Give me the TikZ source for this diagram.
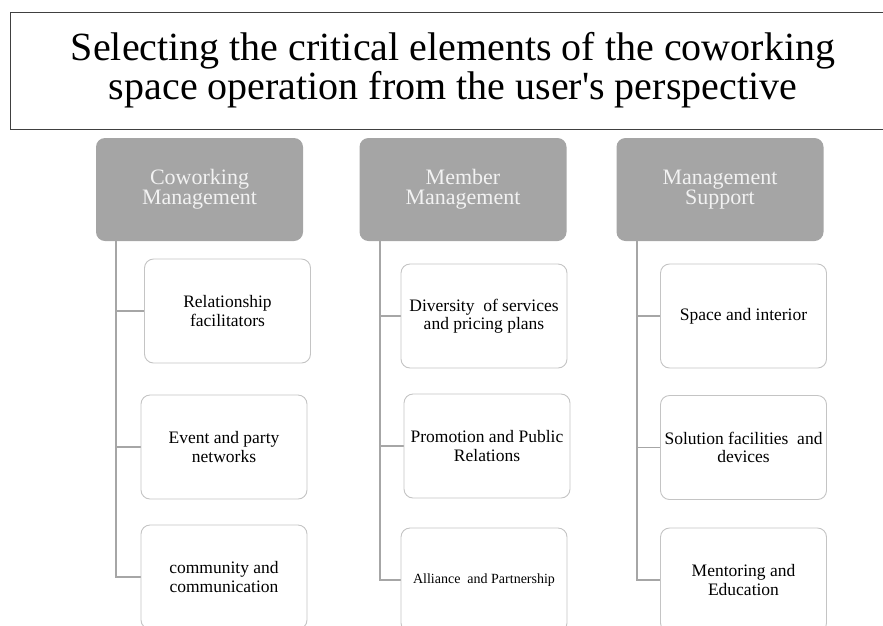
\documentclass[tikz,border=0pt]{standalone}
\usepackage{fontspec}
\setmainfont{Liberation Serif}
\usepackage{tikz}
\definecolor{headgray}{HTML}{A5A5A5}
\definecolor{linegray}{HTML}{A6A6A6}
\definecolor{boxgray}{HTML}{C4C4C4}
\tikzset{
titletext/.style={rectangle, draw=none, inner sep=0pt, align=center, font=\fontsize{40}{39}\selectfont},
frame/.style={draw=black!75, line width=1pt},
head/.style={rectangle, rounded corners=9pt, fill=headgray, draw=none, minimum width=207pt, minimum height=103pt, inner sep=0pt, align=center, text=white!95!black, font=\fontsize{22}{20}\selectfont},
item/.style={rectangle, rounded corners=9pt, draw=boxgray, line width=0.9pt, fill=white, minimum width=166pt, minimum height=104pt, inner sep=0pt, align=center, font=\fontsize{17.5}{18.5}\selectfont},
link/.style={draw=linegray, line width=1.3pt}
}

\begin{document}
\begin{tikzpicture}[x=1pt,y=-1pt]
\useasboundingbox (0,0) rectangle (883,625);
\clip (0,0) rectangle (883,625);

% title, its frame runs off the right side
\draw [frame] (10,12) rectangle (940,129);
\node [titletext] (title) at (453,70.5) {Selecting the critical elements of the coworking\\space operation from the user\textquotesingle s perspective};

\node [head] (CM) at (199.5,189.5) {Coworking\\Management};
\node [head] (MM) at (463,189.5) {Member\\Management};
\node [head] (MS) at (720,189.5) {Management\\Support};

\coordinate (CMroot) at (116,241);
\coordinate (MMroot) at (380,241);
\coordinate (MSroot) at (637,241);

% branch lines first, boxes go on top
\draw [link] (CMroot) |- (216,311);
\draw [link] (CMroot) |- (216,447);
\draw [link] (CMroot) |- (216,577);
\draw [link] (MMroot) |- (470,316);
\draw [link] (MMroot) |- (470,446);
\draw [link] (MMroot) |- (470,580);
\draw [link] (MSroot) |- (730,316);
\draw [link] (MSroot) |- (730,447.5);
\draw [link] (MSroot) |- (730,580);

\node [item] (CM1) at (227.5,311) {Relationship\\facilitators};
\node [item] (CM2) at (224,447) {Event and party\\networks};
\node [item] (CM3) at (224,577) {community and\\communication};

\node [item] (MM1) at (484,316) {Diversity\ \ of services\\and pricing plans};
\node [item] (MM2) at (487,446) {Promotion and Public\\Relations};
\node [item, font=\fontsize{14}{16}\selectfont] (MM3) at (484,580) {Alliance\ \ and Partnership};

\node [item] (MS1) at (743.5,316) {Space and interior};
\node [item] (MS2) at (743.5,447.5) {Solution facilities\ \ and\\devices};
\node [item] (MS3) at (743.5,580) {Mentoring and\\Education};
\end{tikzpicture}
\end{document}
